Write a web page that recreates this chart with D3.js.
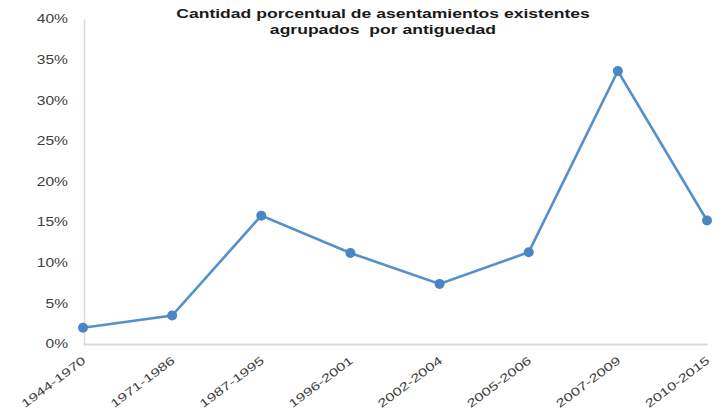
<!DOCTYPE html>
<html><head><meta charset="utf-8">
<script src="https://cdn.jsdelivr.net/npm/d3@7"></script>
<style>body{margin:0;background:#fff;}svg{display:block;}</style>
</head><body>
<script>
const categories = ["1944-1970","1971-1986","1987-1995","1996-2001","2002-2004","2005-2006","2007-2009","2010-2015"];
const values = [2.0, 3.5, 15.8, 11.2, 7.4, 11.3, 33.6, 15.2];
const yTicks = [0,5,10,15,20,25,30,35,40];
const titleLines = ["Cantidad porcentual de asentamientos existentes","agrupados  por antiguedad"];

const W=722,H=413;
const FONT="Liberation Sans, Arial, sans-serif";
const svg=d3.select("body").append("svg").attr("width",W).attr("height",H);
const x=d3.scalePoint().domain(categories).range([83,707]).padding(0);
const y=d3.scaleLinear().domain([0,40]).range([344,19]);

function stretch(sel,f){
  sel.each(function(){
    const L=this.getComputedTextLength();
    d3.select(this).attr("textLength",L*f).attr("lengthAdjust","spacingAndGlyphs");
  });
}

// axes
const ya=svg.append("g").attr("transform","translate(84,0)")
  .call(d3.axisLeft(y).tickValues(yTicks).tickSize(0).tickPadding(16).tickFormat(d=>d+"%"));
ya.select(".domain").attr("stroke","#d9d9d9").attr("stroke-width",1.5);
ya.selectAll("text").attr("font-family",FONT).attr("font-size",12).attr("fill","#404040");
stretch(ya.selectAll("text"),1.3);

const xa=svg.append("g").attr("transform","translate(0,344)")
  .call(d3.axisBottom(x).tickSize(0).tickPadding(0));
xa.select(".domain").attr("stroke","#d9d9d9").attr("stroke-width",2);
xa.selectAll("text").attr("font-family",FONT).attr("font-size",11.5).attr("fill","#404040")
  .attr("text-anchor","end").attr("dy",0).attr("y",0)
  .attr("transform","translate(3,18) rotate(-37)")
  .attr("textLength",77).attr("lengthAdjust","spacingAndGlyphs");

// line
svg.append("path").datum(values)
  .attr("d",d3.line().x((d,i)=>x(categories[i])).y(d=>y(d)))
  .attr("fill","none").attr("stroke","#5590cc").attr("stroke-width",2.6);
svg.selectAll("circle.pt").data(values).enter().append("circle")
  .attr("cx",(d,i)=>x(categories[i])).attr("cy",d=>y(d)).attr("r",5)
  .attr("fill","#4a86c6");

// title
const title=svg.append("g");
title.selectAll("text").data(titleLines).enter().append("text")
  .attr("x",383).attr("y",(d,i)=>18+i*16)
  .attr("font-family",FONT).attr("font-size",13.5).attr("font-weight","bold").attr("fill","#1a1a1a")
  .attr("text-anchor","middle").style("white-space","pre").text(d=>d);
stretch(title.selectAll("text"),1.3);
</script>
</body></html>
